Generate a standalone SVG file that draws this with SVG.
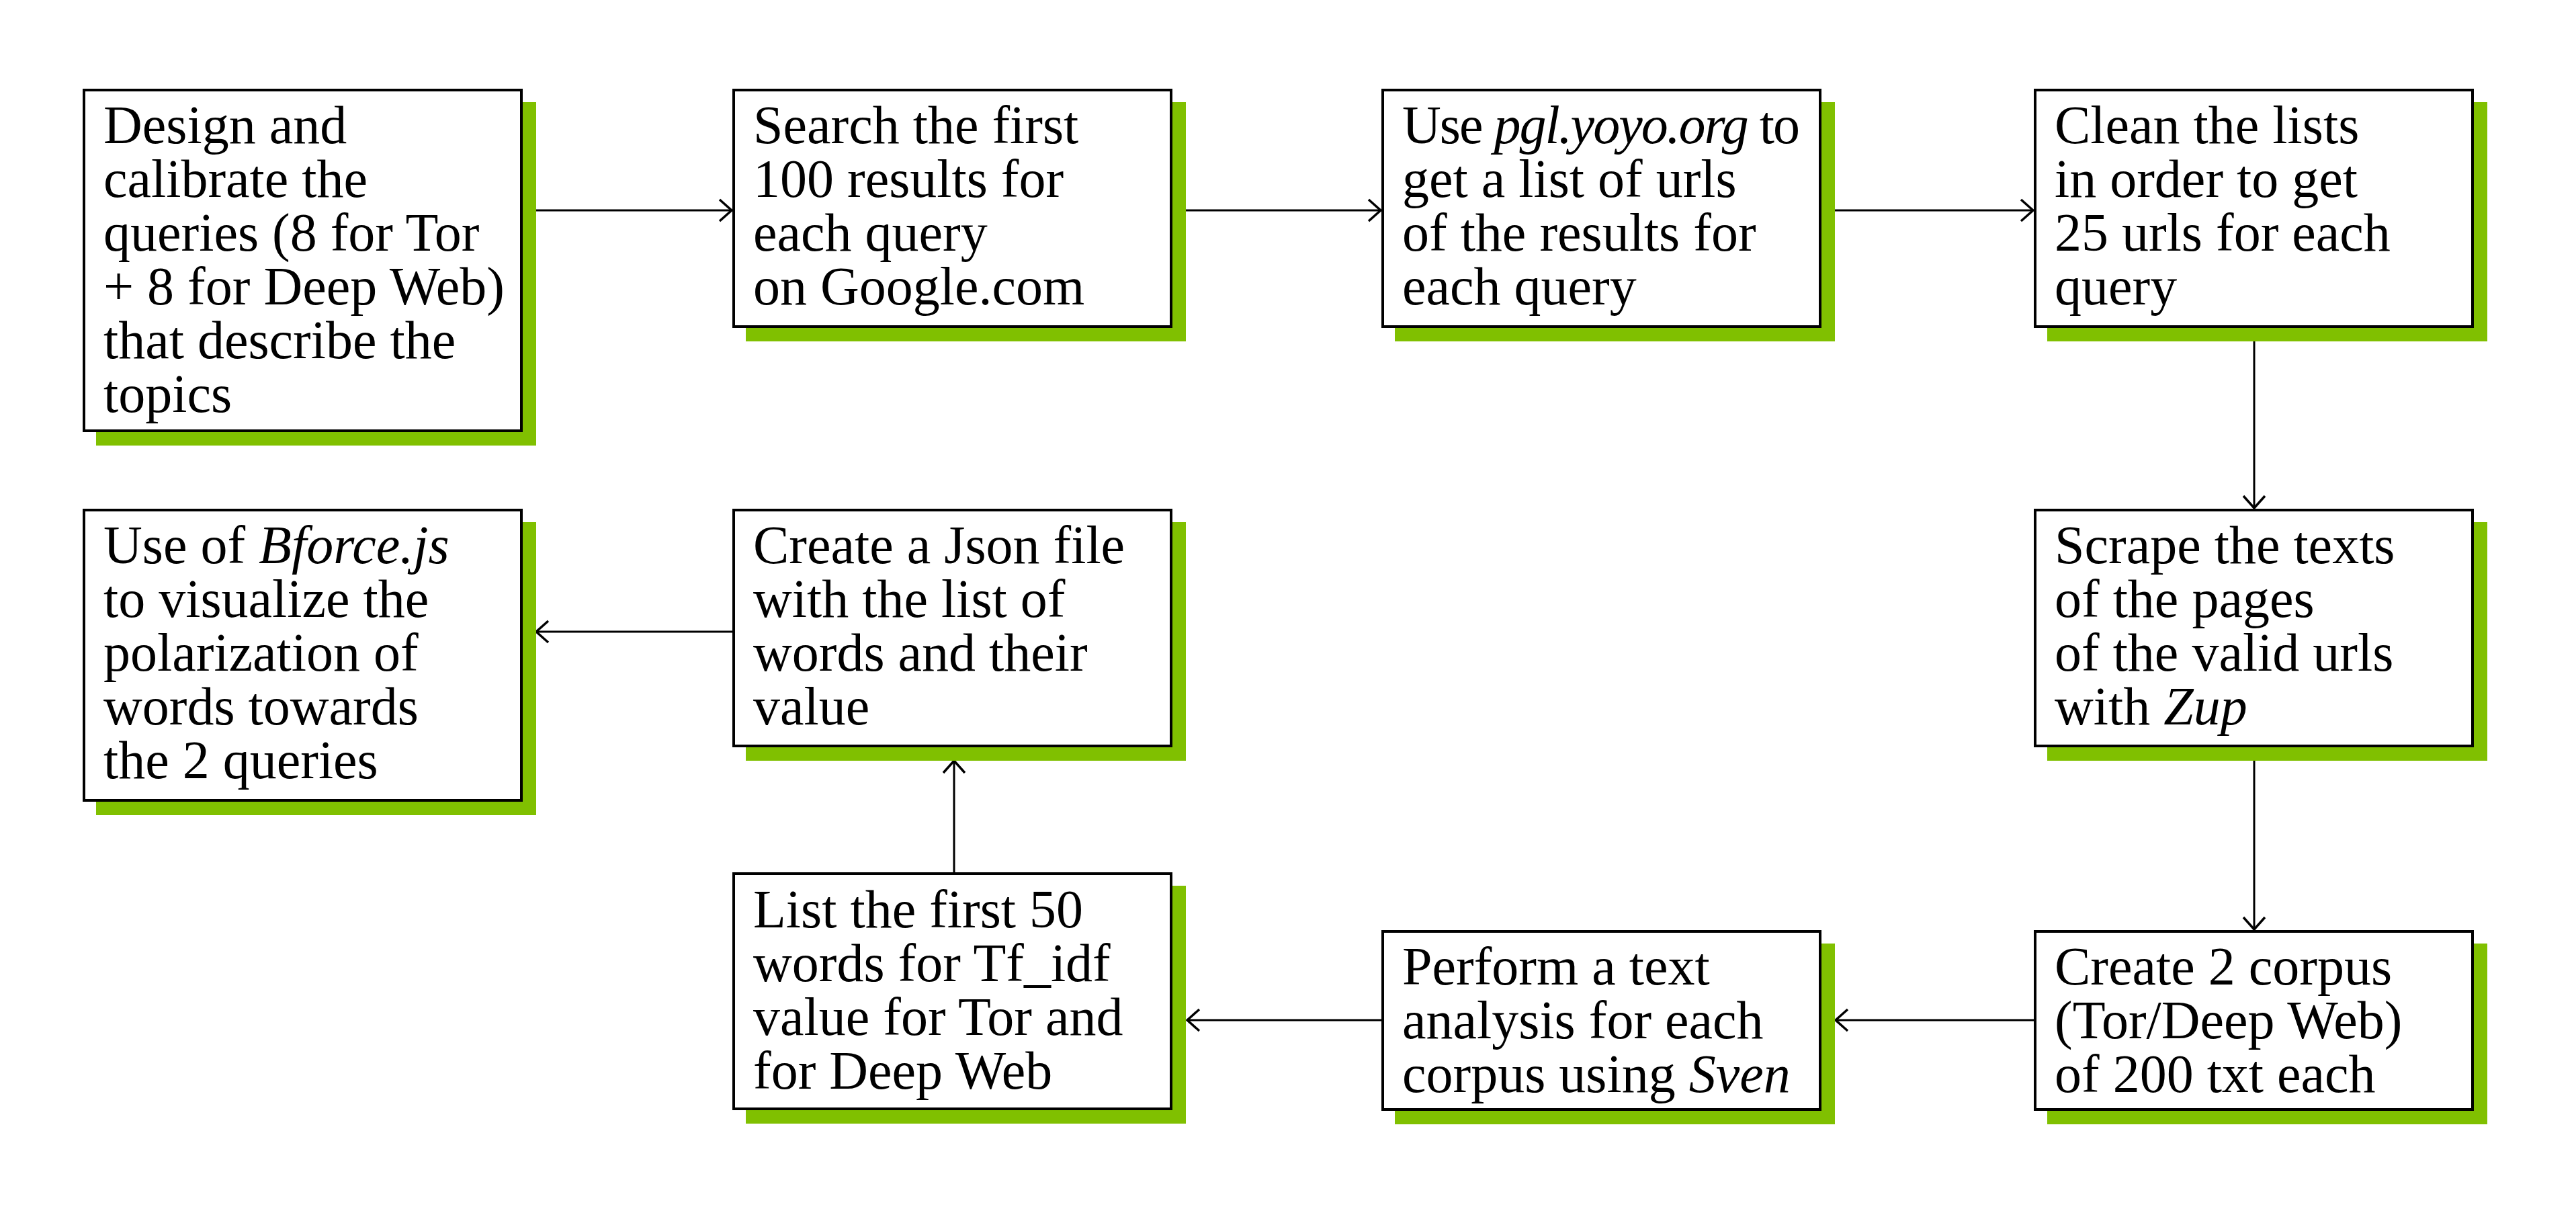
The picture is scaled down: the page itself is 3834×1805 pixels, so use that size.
<svg xmlns="http://www.w3.org/2000/svg" width="3834" height="1805" viewBox="0 0 3834 1805">
<style>
.shadow{fill:#80C000;stroke:none}
.box{fill:#fff;stroke:#000;stroke-width:4}
.lbl{font-family:"Liberation Serif","Times New Roman",serif;font-size:80px;fill:#000}
.it{font-style:italic}
.conn{fill:none;stroke:#000;stroke-width:3;marker-end:url(#arr)}
</style>
<defs>
<marker id="arr" markerUnits="userSpaceOnUse" viewBox="0 0 22 36" refX="20" refY="18" markerWidth="22" markerHeight="36" orient="auto">
<path d="M2,2 L20,18 L2,34" fill="none" stroke="#000" stroke-width="3.5"/>
</marker>
</defs>
<rect width="3834" height="1805" fill="#fff"/>
<g id="connectors">
<path class="conn" d="M798,313 H1089"/>
<path class="conn" d="M1765,313 H2055"/>
<path class="conn" d="M2731,313 H3026"/>
<path class="conn" d="M3355,508 V756"/>
<path class="conn" d="M3355,1132 V1383"/>
<path class="conn" d="M3027,1518 H2732"/>
<path class="conn" d="M2056,1518 H1767"/>
<path class="conn" d="M1420,1298 V1132"/>
<path class="conn" d="M1090,940 H798"/>
</g>
<g id="n1">
<rect class="shadow" x="143" y="152" width="655" height="511"/>
<rect class="box" x="125" y="134" width="651" height="507"/>
<text class="lbl" x="154" y="213"><tspan x="154">Design and</tspan><tspan x="154" dy="80">calibrate the</tspan><tspan x="154" dy="80">queries (8 for Tor</tspan><tspan x="154" dy="80">+ 8 for Deep Web)</tspan><tspan x="154" dy="80">that describe the</tspan><tspan x="154" dy="80">topics</tspan></text>
</g>
<g id="n2">
<rect class="shadow" x="1110" y="152" width="655" height="356"/>
<rect class="box" x="1092" y="134" width="651" height="352"/>
<text class="lbl" x="1121" y="213"><tspan x="1121">Search the first</tspan><tspan x="1121" dy="80">100 results for</tspan><tspan x="1121" dy="80">each query</tspan><tspan x="1121" dy="80">on Google.com</tspan></text>
</g>
<g id="n3">
<rect class="shadow" x="2076" y="152" width="655" height="356"/>
<rect class="box" x="2058" y="134" width="651" height="352"/>
<text class="lbl" x="2087" y="213"><tspan x="2087" textLength="592">Use <tspan class="it">pgl.yoyo.org</tspan> to</tspan><tspan x="2087" dy="80">get a list of urls</tspan><tspan x="2087" dy="80">of the results for</tspan><tspan x="2087" dy="80">each query</tspan></text>
</g>
<g id="n4">
<rect class="shadow" x="3047" y="152" width="655" height="356"/>
<rect class="box" x="3029" y="134" width="651" height="352"/>
<text class="lbl" x="3058" y="213"><tspan x="3058">Clean the lists</tspan><tspan x="3058" dy="80">in order to get</tspan><tspan x="3058" dy="80">25 urls for each</tspan><tspan x="3058" dy="80">query</tspan></text>
</g>
<g id="n5">
<rect class="shadow" x="3047" y="777" width="655" height="355"/>
<rect class="box" x="3029" y="759" width="651" height="351"/>
<text class="lbl" x="3058" y="838"><tspan x="3058">Scrape the texts</tspan><tspan x="3058" dy="80">of the pages</tspan><tspan x="3058" dy="80">of the valid urls</tspan><tspan x="3058" dy="80">with <tspan class="it">Zup</tspan></tspan></text>
</g>
<g id="n6">
<rect class="shadow" x="3047" y="1404" width="655" height="269"/>
<rect class="box" x="3029" y="1386" width="651" height="265"/>
<text class="lbl" x="3058" y="1465"><tspan x="3058">Create 2 corpus</tspan><tspan x="3058" dy="80">(Tor/Deep Web)</tspan><tspan x="3058" dy="80">of 200 txt each</tspan></text>
</g>
<g id="n7">
<rect class="shadow" x="2076" y="1404" width="655" height="269"/>
<rect class="box" x="2058" y="1386" width="651" height="265"/>
<text class="lbl" x="2087" y="1465"><tspan x="2087">Perform a text</tspan><tspan x="2087" dy="80">analysis for each</tspan><tspan x="2087" dy="80">corpus using <tspan class="it">Sven</tspan></tspan></text>
</g>
<g id="n8">
<rect class="shadow" x="1110" y="1318" width="655" height="354"/>
<rect class="box" x="1092" y="1300" width="651" height="350"/>
<text class="lbl" x="1121" y="1380"><tspan x="1121">List the first 50</tspan><tspan x="1121" dy="80">words for Tf_idf</tspan><tspan x="1121" dy="80">value for Tor and</tspan><tspan x="1121" dy="80">for Deep Web</tspan></text>
</g>
<g id="n9">
<rect class="shadow" x="1110" y="777" width="655" height="355"/>
<rect class="box" x="1092" y="759" width="651" height="351"/>
<text class="lbl" x="1121" y="838"><tspan x="1121">Create a Json file</tspan><tspan x="1121" dy="80">with the list of</tspan><tspan x="1121" dy="80">words and their</tspan><tspan x="1121" dy="80">value</tspan></text>
</g>
<g id="n10">
<rect class="shadow" x="143" y="777" width="655" height="436"/>
<rect class="box" x="125" y="759" width="651" height="432"/>
<text class="lbl" x="154" y="838"><tspan x="154">Use of <tspan class="it">Bforce.js</tspan></tspan><tspan x="154" dy="80">to visualize the</tspan><tspan x="154" dy="80">polarization of</tspan><tspan x="154" dy="80">words towards</tspan><tspan x="154" dy="80">the 2 queries</tspan></text>
</g>
</svg>
